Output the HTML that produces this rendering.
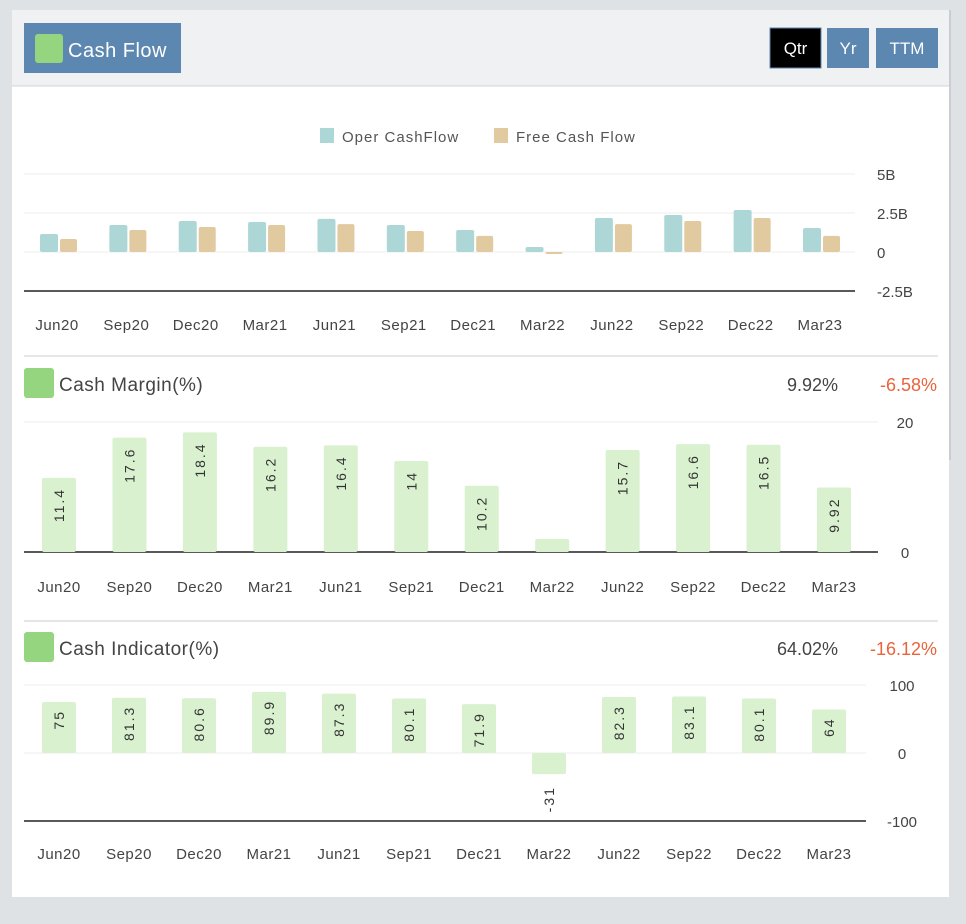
<!DOCTYPE html>
<html><head><meta charset="utf-8">
<style>
body{margin:0;width:966px;height:919px;background:#dee2e5;overflow:hidden;font-family:"Liberation Sans",sans-serif;}
svg text{font-family:"Liberation Sans",sans-serif;}
</style></head>
<body>
<svg id="chart" width="966" height="919" xmlns="http://www.w3.org/2000/svg">
<rect x="12" y="10" width="937" height="887" fill="#ffffff"/>
<rect x="12" y="10" width="937" height="76" fill="#f0f1f3"/>
<line x1="12" y1="86" x2="949" y2="86" stroke="#d2d4d7"/>
<line x1="950" y1="10" x2="950" y2="460" stroke="#c9cdd1" stroke-width="2"/>
<g>
<rect x="24" y="23" width="157" height="50" fill="#5b87b0"/>
<rect x="35" y="34" width="28" height="29" rx="3" fill="#95d580"/>
<text x="68" y="57" font-size="20" fill="#fff" letter-spacing="0.5">Cash Flow</text>
</g>
<g><rect x="770" y="28" width="51" height="40" fill="#000" stroke="#5b87b0"/><text x="795.5" y="54" font-size="17" fill="#fff" text-anchor="middle">Qtr</text></g>
<g><rect x="827" y="28" width="42" height="40" fill="#5b87b0"/><text x="848" y="54" font-size="17" fill="#fff" text-anchor="middle">Yr</text></g>
<g><rect x="876" y="28" width="62" height="40" fill="#5b87b0"/><text x="907" y="54" font-size="17" fill="#fff" text-anchor="middle">TTM</text></g>
<g>
<g><rect x="320" y="128" width="14" height="15" fill="#acd7d6"/><text x="342" y="142" font-size="15" fill="#555" letter-spacing="1">Oper CashFlow</text></g>
<g><rect x="494" y="128" width="14" height="15" fill="#e1ca9f"/><text x="516" y="142" font-size="15" fill="#555" letter-spacing="1">Free Cash Flow</text></g>
</g>
<line x1="24" y1="356" x2="938" y2="356" stroke="#ccc"/>
<line x1="24" y1="621" x2="938" y2="621" stroke="#ccc"/>
<g id="c1"></g>
<g id="c2"></g>
<g id="c3"></g>
</svg>
<script>
const categories=["Jun20","Sep20","Dec20","Mar21","Jun21","Sep21","Dec21","Mar22","Jun22","Sep22","Dec22","Mar23"];
const operCashFlow=[1.15,1.73,1.99,1.92,2.12,1.73,1.41,0.32,2.18,2.37,2.69,1.54];
const freeCashFlow=[0.83,1.41,1.60,1.73,1.79,1.35,1.03,-0.13,1.79,1.99,2.18,1.03];
const cfTicks=[5,2.5,0,-2.5];
const cfTickLabels=["5B","2.5B","0","-2.5B"];
const cashMargin=[11.4,17.6,18.4,16.2,16.4,14,10.2,2.0,15.7,16.6,16.5,9.92];
const cashMarginLabels=["11.4","17.6","18.4","16.2","16.4","14","10.2","","15.7","16.6","16.5","9.92"];
const cmTicks=[20,0];
const cashIndicator=[75,81.3,80.6,89.9,87.3,80.1,71.9,-31,82.3,83.1,80.1,64];
const ciTicks=[100,0,-100];
const NS="http://www.w3.org/2000/svg";
function mk(p,tag,a,txt){const e=document.createElementNS(NS,tag);for(const k in a)e.setAttribute(k,a[k]);if(txt!==undefined)e.textContent=txt;p.appendChild(e);return e;}
function yScale(v0,y0,v1,y1){return v=>y0+(v-v0)*(y1-y0)/(v1-v0);}
function xScale(x0,x1){return i=>x0+i*(x1-x0)/(categories.length-1);}
// Chart 1
(function(){
const g=document.getElementById('c1');
const y=yScale(0,252,2.5,213);const x=xScale(57,820);
cfTicks.forEach((t,i)=>{
const l=mk(g,'line',{x1:24,x2:855,y1:y(t),y2:y(t),stroke:t===-2.5?'#222':'#eee','stroke-width':t===-2.5?1.5:1});


const tx=mk(g,'text',{x:877,y:y(t)+6,'font-size':15,fill:'#444'},cfTickLabels[i]);


});
categories.forEach((c,i)=>{
const cx=x(i);
const v1=operCashFlow[i],v2=freeCashFlow[i];
const b1=mk(g,'rect',{x:cx-17,y:Math.min(y(v1),y(0)),width:18,height:Math.abs(y(v1)-y(0)),fill:'#acd7d6',rx:2});


const b2=mk(g,'rect',{x:cx+3,y:Math.min(y(v2),y(0)),width:17,height:Math.max(1,Math.abs(y(v2)-y(0))),fill:'#e1ca9f',rx:2});


const t=mk(g,'text',{x:cx,y:330,'font-size':15,fill:'#444','text-anchor':'middle','letter-spacing':0.5},c);


});
})();
function header(g,y0,title,val,chg){
const s=mk(g,'rect',{x:24,y:y0,width:30,height:30,rx:3,fill:'#95d580'});


const t=mk(g,'text',{x:59,y:y0+23,'font-size':19,fill:'#444','letter-spacing':0.5},title);


const v=mk(g,'text',{x:838,y:y0+23,'font-size':18,fill:'#444','text-anchor':'end'},val);


const c=mk(g,'text',{x:937,y:y0+23,'font-size':18,fill:'#e8643c','text-anchor':'end'},chg);


}
// Chart 2
(function(){
const g=document.getElementById('c2');
header(g,368,'Cash Margin(%)','9.92%','-6.58%');
const y=yScale(0,552,20,422);const x=xScale(59,834);
cmTicks.forEach(t=>{
const l=mk(g,'line',{x1:24,x2:878,y1:y(t),y2:y(t),stroke:t===0?'#222':'#eee','stroke-width':t===0?1.5:1});


const tx=mk(g,'text',{x:905,y:y(t)+6,'font-size':15,fill:'#444','text-anchor':'middle'},String(t));


});
categories.forEach((c,i)=>{
const cx=x(i);const v=cashMargin[i];
const b=mk(g,'rect',{x:cx-17,y:y(v),width:34,height:y(0)-y(v),fill:'#d9f1cf',rx:2});


if(cashMarginLabels[i]){
const lt=mk(g,'text',{transform:`translate(${cx+5},${y(v)+10}) rotate(-90)`,'font-size':14,fill:'#333','text-anchor':'end','letter-spacing':2},cashMarginLabels[i]);


}
const t=mk(g,'text',{x:cx,y:592,'font-size':15,fill:'#444','text-anchor':'middle','letter-spacing':0.5},c);


});
})();
// Chart 3
(function(){
const g=document.getElementById('c3');
header(g,632,'Cash Indicator(%)','64.02%','-16.12%');
const y=yScale(0,753,100,685);const x=xScale(59,829);
ciTicks.forEach(t=>{
const l=mk(g,'line',{x1:24,x2:866,y1:y(t),y2:y(t),stroke:t===-100?'#222':'#eee','stroke-width':t===-100?1.5:1});


const tx=mk(g,'text',{x:902,y:y(t)+6,'font-size':15,fill:'#444','text-anchor':'middle'},String(t));


});
categories.forEach((c,i)=>{
const cx=x(i);const v=cashIndicator[i];
const b=mk(g,'rect',{x:cx-17,y:Math.min(y(v),y(0)),width:34,height:Math.abs(y(v)-y(0)),fill:'#d9f1cf',rx:2});


const ly=v>=0?y(v)+8:y(v)+12;
const lt=mk(g,'text',{transform:`translate(${cx+5},${ly}) rotate(-90)`,'font-size':14,fill:'#333','text-anchor':'end','letter-spacing':2},String(v));


const t=mk(g,'text',{x:cx,y:859,'font-size':15,fill:'#444','text-anchor':'middle','letter-spacing':0.5},c);


});
})();
</script>
</body></html>
